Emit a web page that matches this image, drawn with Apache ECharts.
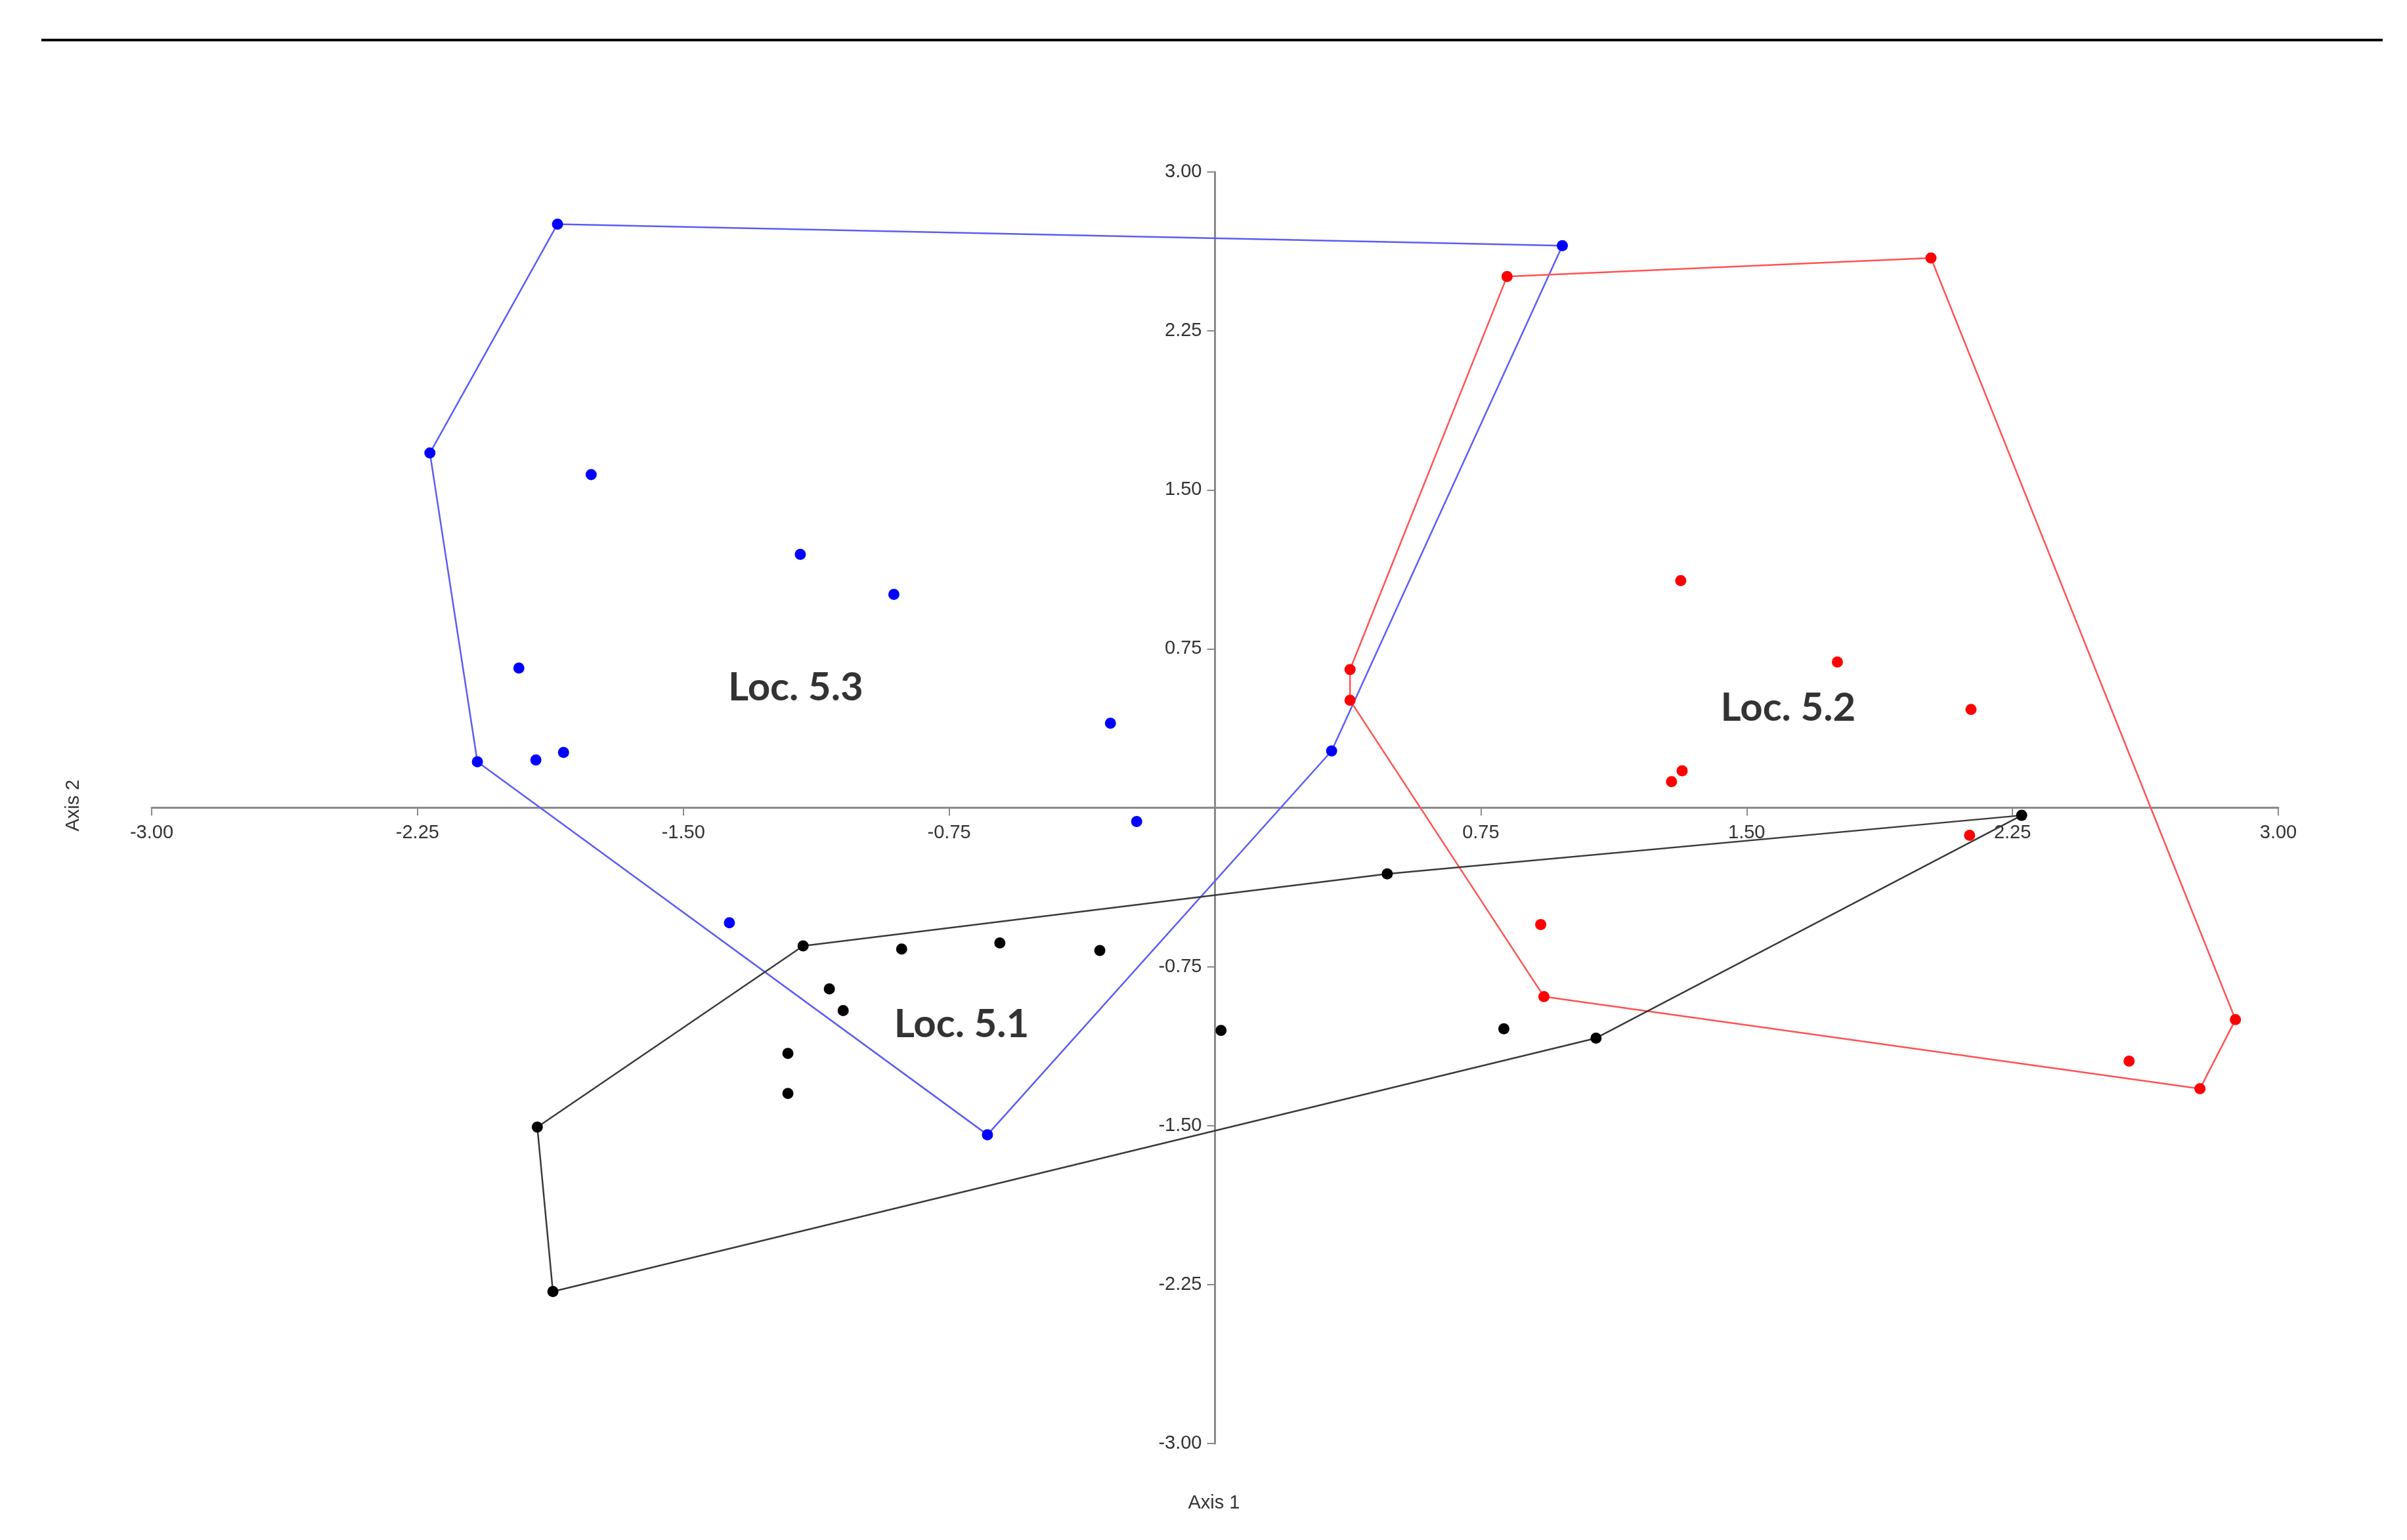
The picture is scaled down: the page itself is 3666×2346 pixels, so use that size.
<!DOCTYPE html>
<html>
<head>
<meta charset="utf-8">
<script src="https://cdn.jsdelivr.net/npm/echarts@6/dist/echarts.min.js"></script>
<style>
    html, body { margin: 0; padding: 0; background: #fff; }
    #chart { width: 3666px; height: 2346px; }
</style>
</head>
<body>
<div id="chart"></div>
<script>
// Loc. 5.3 (blue)
const blueX = [-1.855, 0.980, -2.215, -1.760, -1.170, -0.906, -1.964, -0.295, -2.081, -1.916, -1.838, 0.329, -0.221, -1.370, -0.642]
const blueY = [2.754, 2.652, 1.674, 1.572, 1.196, 1.007, 0.659, 0.399, 0.217, 0.225, 0.261, 0.268, -0.065, -0.543, -1.543]
const blueHull = [0, 1, 11, 14, 8, 2, 0]

// Loc. 5.2 (red)
const redX = [0.824, 2.020, 0.381, 0.381, 1.314, 1.756, 2.133, 1.318, 1.288, 2.129, 0.919, 0.928, 2.879, 2.579, 2.779]
const redY = [2.507, 2.594, 0.652, 0.507, 1.072, 0.688, 0.464, 0.174, 0.123, -0.130, -0.551, -0.891, -1.000, -1.196, -1.326]
const redHull = [0, 1, 12, 14, 11, 3, 2, 0]

// Loc. 5.1 (black)
const blackX = [2.276, 0.486, -1.162, -0.884, -0.607, -0.325, -1.088, -1.049, 0.017, 0.815, 1.075, -1.205, -1.205, -1.912, -1.868]
const blackY = [-0.036, -0.312, -0.652, -0.667, -0.638, -0.674, -0.855, -0.957, -1.051, -1.043, -1.087, -1.159, -1.348, -1.507, -2.283]
const blackHull = [0, 1, 2, 13, 14, 10, 0]

// group labels and where they sit
const groupNames = ['Loc. 5.3', 'Loc. 5.2', 'Loc. 5.1']
const groupLabelX = [-1.183, 1.617, -0.715]
const groupLabelY = [0.565, 0.471, -1.022]

const axisMin = -3
const axisMax = 3
const axisStep = 0.75

const pts = (xs, ys) => xs.map((x, i) => [x, ys[i]])
const hull = (xs, ys, idx) => idx.map((i) => [xs[i], ys[i]])

const tickFmt = (v) => (Math.abs(v) < 1e-9 ? '' : v.toFixed(2))

const chart = echarts.init(document.getElementById('chart'))

const axisCommon = {
    type: 'value',
    min: axisMin,
    max: axisMax,
    interval: axisStep,
    splitLine: { show: false },
    axisLine: { show: true, onZero: false, lineStyle: { color: '#8a8a8a', width: 3 } },
    axisTick: { show: true, length: 12, lineStyle: { color: '#8a8a8a', width: 2 } },
}

function hullSeries(xs, ys, idx, color) {
    return {
        type: 'line',
        data: hull(xs, ys, idx),
        showSymbol: false,
        symbol: 'none',
        lineStyle: { color: color, width: 2.5 },
        z: 2,
        silent: true,
    }
}

function dotSeries(xs, ys, color) {
    return {
        type: 'scatter',
        data: pts(xs, ys),
        symbolSize: 17,
        itemStyle: { color: color, opacity: 1 },
        z: 3,
    }
}

chart.setOption({
    animation: false,
    backgroundColor: '#fff',
    grid: { left: 231, right: 196, top: 262, bottom: 147 },
    xAxis: {
        ...axisCommon,
        position: 'bottom',
        axisLabel: {
            formatter: tickFmt,
            fontSize: 29,
            color: '#333',
            fontFamily: 'Liberation Sans',
            margin: 24,
            showMinLabel: true,
            showMaxLabel: true,
        },
    },
    yAxis: {
        ...axisCommon,
        position: 'left',
        axisLabel: {
            formatter: tickFmt,
            fontSize: 29,
            color: '#333',
            fontFamily: 'Liberation Sans',
            margin: 20,
            showMinLabel: true,
            showMaxLabel: true,
        },
    },
    graphic: [
        // rule across the top
        {
            type: 'line',
            shape: { x1: 63, y1: 61, x2: 3629, y2: 61 },
            style: { stroke: '#000', lineWidth: 4 },
        },
        {
            type: 'text',
            x: 1849,
            y: 2290,
            style: {
                text: 'Axis 1',
                fontSize: 29,
                fontFamily: 'Liberation Sans',
                fill: '#333',
                textAlign: 'center',
                textVerticalAlign: 'middle',
            },
        },
        {
            type: 'text',
            x: 112,
            y: 1227,
            rotation: Math.PI / 2,
            style: {
                text: 'Axis 2',
                fontSize: 29,
                fontFamily: 'Liberation Sans',
                fill: '#333',
                textAlign: 'center',
                textVerticalAlign: 'middle',
            },
        },
    ],
    series: [
        hullSeries(blueX, blueY, blueHull, '#5c5cf5'),
        hullSeries(redX, redY, redHull, '#ff5252'),
        hullSeries(blackX, blackY, blackHull, '#3a3a3a'),
        dotSeries(blueX, blueY, '#0000ff'),
        dotSeries(redX, redY, '#ff0000'),
        dotSeries(blackX, blackY, '#000000'),
        {
            type: 'scatter',
            data: groupNames.map((n, i) => ({ name: n, value: [groupLabelX[i], groupLabelY[i]] })),
            symbolSize: 1,
            itemStyle: { color: 'rgba(0,0,0,0)' },
            label: {
                show: true,
                position: 'inside',
                formatter: '{b}',
                fontFamily: 'Lato',
                fontWeight: 'bold',
                fontSize: 60,
                color: '#000',
            },
            z: 4,
            silent: true,
        },
    ],
})

// move both axes (line, ticks, labels) onto the origin, as the reference does
const origin = chart.convertToPixel({ gridIndex: 0 }, [0, 0])
const bottomLeft = chart.convertToPixel({ gridIndex: 0 }, [axisMin, axisMin])
chart.setOption({
    xAxis: { offset: -(bottomLeft[1] - origin[1]) },
    yAxis: { offset: -(origin[0] - bottomLeft[0]) },
})
</script>
</body>
</html>
